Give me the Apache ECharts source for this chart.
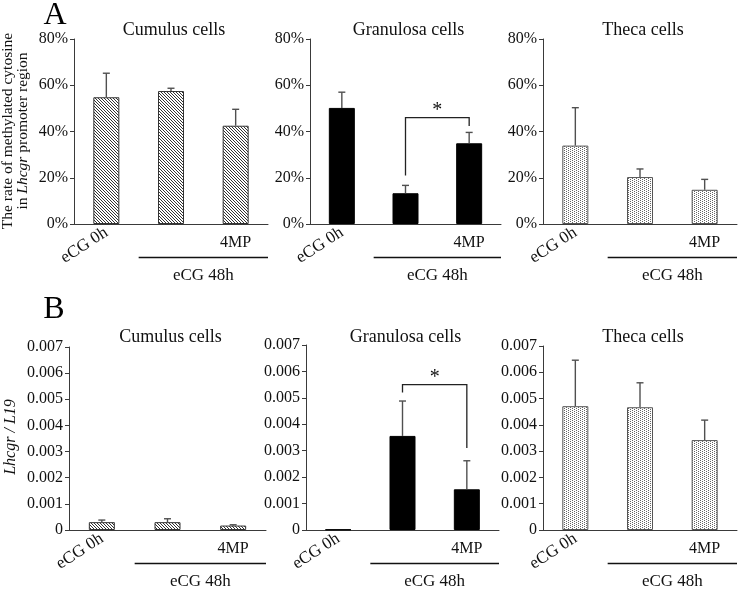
<!DOCTYPE html>
<html>
<head>
<meta charset="utf-8">
<script src="https://cdn.jsdelivr.net/npm/echarts@6/dist/echarts.min.js"></script>
<style>html,body{margin:0;padding:0;background:#fff;}#c{width:739px;height:590px;}</style>
</head>
<body>
<div id="c"></div>
<script>
// ---------- data ----------
const categories = ['eCG 0h', 'eCG 48h', 'eCG 48h + 4MP'];
const rotatedLabels = ['eCG 0h', '', ''];
const flatLabels = ['', '', '4MP'];
const groupLabel = 'eCG 48h';
const panelTitles = ['Cumulus cells', 'Granulosa cells', 'Theca cells'];

const methCumulus = [54.8, 57.5, 42.5];
const methCumulusErr = [10.4, 1.2, 7.1];
const methGranulosa = [50.2, 13.3, 34.9];
const methGranulosaErr = [6.8, 3.4, 4.7];
const methTheca = [33.9, 20.3, 14.8];
const methThecaErr = [16.4, 3.5, 4.5];

const exprCumulus = [0.00030, 0.00030, 0.00017];
const exprCumulusErr = [0.00008, 0.00013, 0.00003];
const exprGranulosa = [0.00002, 0.00356, 0.00154];
const exprGranulosaErr = [0, 0.00132, 0.00108];
const exprTheca = [0.00471, 0.00467, 0.00342];
const exprThecaErr = [0.00175, 0.00093, 0.00076];

const methYTicks = [0, 20, 40, 60, 80];
const exprYTicks = [0, 0.001, 0.002, 0.003, 0.004, 0.005, 0.006, 0.007];

// significance brackets: [fromIndex, toIndex, top, leftBottom, rightBottom]
const methBracket = [1, 2, 46, 21, 42.4];
const exprBracket = [1, 2, 0.0055, 0.0052, 0.0031];

// ---------- style ----------
const FONT = '"Liberation Serif", "Times New Roman", serif';
const TXT = '#111';
const AX = '#3a3a3a';

function hatchPattern() {
  const c = document.createElement('canvas');
  c.width = 3; c.height = 3;
  const ctx = c.getContext('2d');
  ctx.fillStyle = '#fff'; ctx.fillRect(0, 0, 3, 3);
  ctx.fillStyle = '#333';
  for (let x = 0; x < 3; x++) {
    ctx.fillRect(x, x, 1, 1);
  }
  return c;
}
function dotPattern() {
  const c = document.createElement('canvas');
  c.width = 4; c.height = 2;
  const ctx = c.getContext('2d');
  ctx.fillStyle = '#fff'; ctx.fillRect(0, 0, 4, 2);
  ctx.fillStyle = '#666';
  ctx.fillRect(0, 0, 1, 1);
  ctx.fillRect(2, 1, 1, 1);
  return c;
}
const fills = [
  { color: { image: hatchPattern(), repeat: 'repeat' }, borderColor: '#333', borderWidth: 1 },
  { color: '#000', borderColor: '#000', borderWidth: 1 },
  { color: { image: dotPattern(), repeat: 'repeat' }, borderColor: '#555', borderWidth: 1 }
];

const grids = [
  { left: 74, top: 39, width: 194, height: 185 },
  { left: 310, top: 39, width: 191, height: 185 },
  { left: 543, top: 39, width: 194, height: 185 },
  { left: 69, top: 347, width: 197, height: 183 },
  { left: 306, top: 345, width: 193, height: 185 },
  { left: 543, top: 346, width: 194, height: 184 }
];

const panels = [
  { vals: methCumulus, err: methCumulusErr, fill: 0, kind: 'meth' },
  { vals: methGranulosa, err: methGranulosaErr, fill: 1, kind: 'meth', bracket: methBracket },
  { vals: methTheca, err: methThecaErr, fill: 2, kind: 'meth' },
  { vals: exprCumulus, err: exprCumulusErr, fill: 0, kind: 'expr' },
  { vals: exprGranulosa, err: exprGranulosaErr, fill: 1, kind: 'expr', bracket: exprBracket },
  { vals: exprTheca, err: exprThecaErr, fill: 2, kind: 'expr' }
];

const xAxes = [], yAxes = [], series = [], titles = [], graphics = [];

panels.forEach((p, g) => {
  const gr = grids[g];
  const isMeth = p.kind === 'meth';
  const ticks = isMeth ? methYTicks : exprYTicks;
  xAxes.push({
    type: 'category', gridIndex: g, data: categories,
    axisLine: { lineStyle: { color: AX, width: 1 } },
    axisTick: { length: 4, lineStyle: { color: AX } },
    axisLabel: {
      interval: 0, rotate: 33, margin: 7, fontFamily: FONT, fontSize: 17, color: TXT,
      formatter: (v, i) => rotatedLabels[i]
    }
  });
  xAxes.push({
    type: 'category', gridIndex: g, data: categories, position: 'bottom',
    axisLine: { show: false }, axisTick: { show: false },
    axisLabel: {
      interval: 0, margin: 11, fontFamily: FONT, fontSize: 16, color: TXT,
      formatter: (v, i) => flatLabels[i]
    }
  });
  yAxes.push({
    type: 'value', gridIndex: g,
    min: ticks[0], max: ticks[ticks.length - 1], interval: ticks[1] - ticks[0],
    splitLine: { show: false },
    axisLine: { show: true, lineStyle: { color: AX, width: 1 } },
    axisTick: { show: true, length: 4, lineStyle: { color: AX } },
    axisLabel: {
      margin: 6, fontFamily: FONT, fontSize: 16, color: TXT,
      formatter: v => isMeth ? Math.round(v) + '%' : (v === 0 ? '0' : v.toFixed(3))
    }
  });
  series.push({
    type: 'bar', xAxisIndex: 2 * g, yAxisIndex: g, barWidth: 26,
    data: p.vals, itemStyle: fills[p.fill], silent: true, animation: false
  });
  series.push({
    type: 'custom', xAxisIndex: 2 * g, yAxisIndex: g, z: 5, animation: false,
    data: p.vals.map((v, i) => [i, v, p.err[i]]),
    renderItem: (params, api) => {
      const i = api.value(0), m = api.value(1), e = api.value(2);
      if (!e) return null;
      const a = api.coord([i, m]);
      const b = api.coord([i, m + e]);
      const st = { stroke: '#505050', lineWidth: 1.4 };
      return {
        type: 'group', children: [
          { type: 'line', shape: { x1: a[0], y1: a[1], x2: b[0], y2: b[1] }, style: st },
          { type: 'line', shape: { x1: b[0] - 3.5, y1: b[1], x2: b[0] + 3.5, y2: b[1] }, style: st }
        ]
      };
    }
  });
  if (p.bracket) {
    series.push({
      type: 'custom', xAxisIndex: 2 * g, yAxisIndex: g, z: 6, animation: false,
      encode: { x: 0, y: 2 },
      data: [p.bracket],
      renderItem: (params, api) => {
        const i0 = api.value(0), i1 = api.value(1);
        const top = api.value(2), lb = api.value(3), rb = api.value(4);
        const pl = api.coord([i0, lb]), pt = api.coord([i0, top]);
        const pr = api.coord([i1, rb]), pt2 = api.coord([i1, top]);
        return {
          type: 'group', children: [
            { type: 'polyline', shape: { points: [pl, pt, pt2, pr] }, style: { stroke: '#222', lineWidth: 1.3, fill: null } },
            { type: 'text', style: { text: '*', x: (pt[0] + pt2[0]) / 2, y: pt[1] - 7, align: 'center', verticalAlign: 'middle', font: '20px ' + FONT, fill: TXT } }
          ]
        };
      }
    });
  }
  titles.push({
    text: panelTitles[g % 3], left: gr.left + gr.width / 2 - 2, top: g < 3 ? 16 : 323, textAlign: 'center',
    textStyle: { fontFamily: FONT, fontSize: 18, fontWeight: 'normal', color: TXT }
  });
  // group label under categories 2 and 3
  const x1 = gr.left + gr.width / 3, x2 = gr.left + gr.width;
  const yb = gr.top + gr.height;
  graphics.push({ type: 'line', shape: { x1: x1, y1: yb + 33.5, x2: x2, y2: yb + 33.5 }, style: { stroke: '#111', lineWidth: 1.3 } });
  graphics.push({ type: 'text', style: { text: groupLabel, x: (x1 + x2) / 2, y: yb + 52, align: 'center', verticalAlign: 'middle', font: '17px ' + FONT, fill: TXT } });
});

graphics.push({ type: 'text', style: { text: 'A', x: 55, y: 16, align: 'center', verticalAlign: 'middle', font: '32px ' + FONT, fill: '#000' } });
graphics.push({ type: 'text', style: { text: 'B', x: 54, y: 310, align: 'center', verticalAlign: 'middle', font: '32px ' + FONT, fill: '#000' } });
graphics.push({
  type: 'text', rotation: Math.PI / 2, x: 15, y: 131,
  style: {
    text: 'The rate of methylated cytosine\nin {i|Lhcgr} promoter region',
    rich: { i: { fontStyle: 'italic', fontFamily: FONT, fontSize: 15.5, fill: TXT } },
    fontFamily: FONT, fontSize: 15.5, lineHeight: 15, align: 'center', verticalAlign: 'middle', fill: TXT
  }
});
graphics.push({
  type: 'text', rotation: Math.PI / 2, x: 11, y: 437,
  style: {
    text: 'Lhcgr / L19', fontStyle: 'italic', fontFamily: FONT, fontSize: 16,
    align: 'center', verticalAlign: 'middle', fill: TXT
  }
});

const chart = echarts.init(document.getElementById('c'), null, { renderer: 'canvas' });
chart.setOption({
  animation: false,
  backgroundColor: '#fff',
  title: titles,
  grid: grids,
  xAxis: xAxes,
  yAxis: yAxes,
  series: series,
  graphic: graphics
});
</script>
</body>
</html>
